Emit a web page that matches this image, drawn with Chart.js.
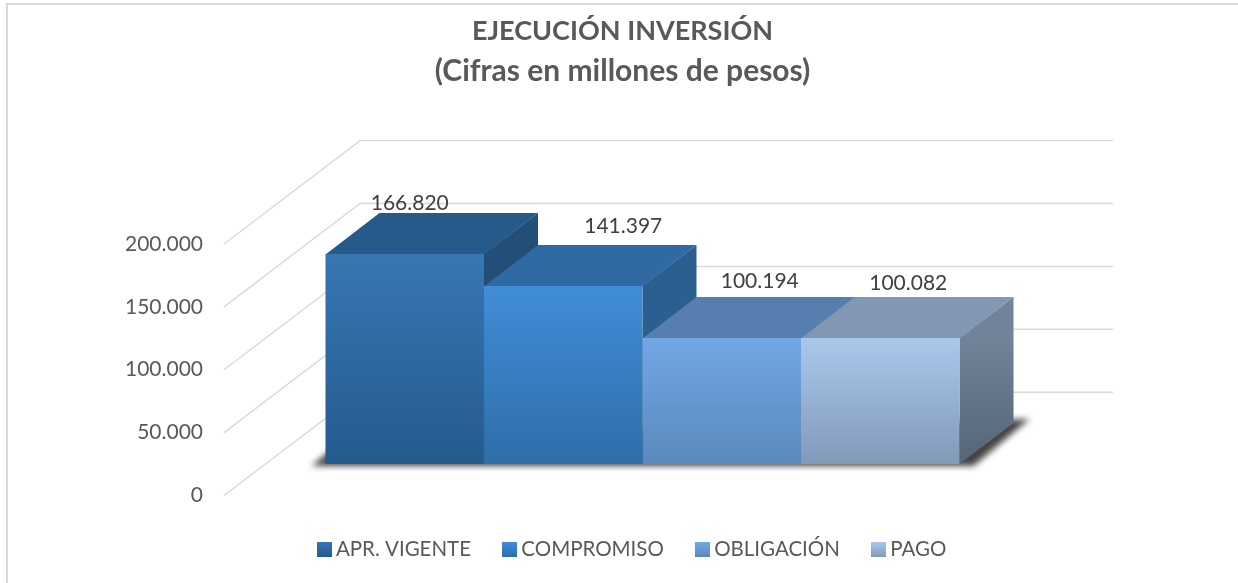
<!DOCTYPE html>
<html lang="es">
<head>
<meta charset="utf-8">
<title>Ejecución inversión</title>
<script src="https://cdn.jsdelivr.net/npm/chart.js@4"></script>
<style>
  html, body { margin: 0; padding: 0; background: #fff; }
  #wrap { width: 1238px; height: 583px; }
</style>
</head>
<body>
<div id="wrap"><canvas id="grafico" width="1238" height="583"></canvas></div>
<script>
// ==================== DATOS ====================
const categorias = ['Inversión'];
const series = ['APR. VIGENTE', 'COMPROMISO', 'OBLIGACIÓN', 'PAGO'];
const aprVigente = [166820];
const compromiso = [141397];
const obligacion = [100194];
const pago = [100082];
const valores = [aprVigente, compromiso, obligacion, pago];
const tickValores = [0, 50000, 100000, 150000, 200000];

// ==================== ESTILOS ====================
const frenteArriba = ['#3776b3', '#418dd8', '#72a8e6', '#aac8ec'];
const frenteAbajo = ['#255a8e', '#2e6ea8', '#5a88bc', '#8299b9'];
const techo = ['#265a8a', '#2f6aa3', '#567eae', '#8298b2'];
const ladoArriba = ['#224e78', '#2a5f90', '#4c6f9c', '#728298'];
const ladoAbajo = ['#224e78', '#2a5f90', '#4c6f9c', '#556678'];
// desplazamiento manual de cada etiqueta respecto al centro del techo
const etiquetaDx = [-22, 33, 11, 1];
const etiquetaDy = [-10, -19, -16, -14];

const PARED = { dx: 136, dy: -103.3 }; // fondo de la caja 3D
const BARRA = { dx: 54, dy: -41 };     // profundidad de cada barra
const FRENTE = { dx: 42, dy: -31.6 };  // donde arranca el frente de las barras
const LEYENDA_DX = 12;                 // la leyenda no va centrada con el título

function formatoMiles(v) {
    return v === 0 ? '0' : v.toLocaleString('de-DE');
}

function iconoLeyenda(i) {
    const c = document.createElement('canvas');
    c.width = 15; c.height = 15;
    const g = c.getContext('2d');
    const grad = g.createLinearGradient(0, 0, 0, 15);
    grad.addColorStop(0, frenteArriba[i]);
    grad.addColorStop(1, frenteAbajo[i]);
    g.fillStyle = grad;
    g.fillRect(0, 0, 15, 15);
    return c;
}

// ==================== PLUGIN 3D ====================
const caja3d = {
    id: 'caja3d',
    afterLayout(chart) {
        chart.legend.left += LEYENDA_DX;
        chart.legend.right += LEYENDA_DX;
    },
    beforeDraw(chart) {
        const { ctx, chartArea, scales } = chart;
        ctx.save();
        // marco exterior: solo se ven los bordes superior e izquierdo
        ctx.strokeStyle = '#d9d9d9';
        ctx.lineWidth = 2;
        ctx.beginPath();
        ctx.moveTo(7, 583);
        ctx.lineTo(7, 4);
        ctx.lineTo(1238, 4);
        ctx.stroke();
        // rejilla: pared lateral y pared de fondo
        ctx.lineWidth = 1.4;
        tickValores.forEach(v => {
            const y = scales.y.getPixelForValue(v);
            ctx.beginPath();
            ctx.moveTo(chartArea.left, y);
            ctx.lineTo(chartArea.left + PARED.dx, y + PARED.dy);
            ctx.lineTo(chartArea.right + PARED.dx, y + PARED.dy);
            ctx.stroke();
        });
        ctx.restore();
    },
    beforeDatasetsDraw(chart) {
        const { ctx } = chart;
        const barras = valores.map((_, i) => chart.getDatasetMeta(i).data[0]);
        const ultima = barras[barras.length - 1];
        const x0 = barras[0].x - barras[0].width / 2 + FRENTE.dx;
        const x1 = ultima.x + ultima.width / 2 + FRENTE.dx;
        const base = ultima.base + FRENTE.dy;

        // sombra sobre el piso
        ctx.save();
        ctx.filter = 'blur(3px)';
        ctx.fillStyle = '#444444';
        ctx.beginPath();
        ctx.moveTo(x0 - 14, base + 2);
        ctx.lineTo(x0 + 20, base - 26);
        ctx.lineTo(x1 + BARRA.dx + 16, base - 45);
        ctx.lineTo(x1 + 14, base + 2);
        ctx.closePath();
        ctx.fill();
        ctx.restore();

        // caras de techo y lateral, de izquierda a derecha
        barras.forEach((b, i) => {
            const izq = b.x - b.width / 2 + FRENTE.dx;
            const der = b.x + b.width / 2 + FRENTE.dx;
            const arriba = b.y + FRENTE.dy;
            const abajo = b.base + FRENTE.dy;

            const lado = ctx.createLinearGradient(0, arriba, 0, abajo);
            lado.addColorStop(0, ladoArriba[i]);
            lado.addColorStop(1, ladoAbajo[i]);
            ctx.fillStyle = lado;
            ctx.beginPath();
            ctx.moveTo(der, arriba);
            ctx.lineTo(der + BARRA.dx, arriba + BARRA.dy);
            ctx.lineTo(der + BARRA.dx, abajo + BARRA.dy);
            ctx.lineTo(der, abajo);
            ctx.closePath();
            ctx.fill();

            // medio pixel por debajo del frente para que no quede costura
            ctx.fillStyle = techo[i];
            ctx.beginPath();
            ctx.moveTo(izq, arriba + 0.5);
            ctx.lineTo(izq + BARRA.dx, arriba + BARRA.dy);
            ctx.lineTo(der + BARRA.dx, arriba + BARRA.dy);
            ctx.lineTo(der, arriba + 0.5);
            ctx.closePath();
            ctx.fill();
        });

        // el frente se dibuja con la propia barra de Chart.js, corrida hacia el fondo
        ctx.save();
        ctx.translate(FRENTE.dx, FRENTE.dy);
    },
    afterDatasetsDraw(chart) {
        const { ctx } = chart;
        ctx.restore();
        // etiquetas de valor
        ctx.save();
        ctx.font = '21px Lato';
        ctx.fillStyle = '#404040';
        ctx.textAlign = 'center';
        ctx.textBaseline = 'middle';
        valores.forEach((serie, i) => {
            const b = chart.getDatasetMeta(i).data[0];
            const cx = b.x + FRENTE.dx + BARRA.dx / 2 + etiquetaDx[i];
            const cy = b.y + FRENTE.dy + BARRA.dy + etiquetaDy[i];
            ctx.fillText(formatoMiles(serie[0]), cx, cy);
        });
        ctx.restore();
    }
};

// ==================== GRÁFICO ====================
function gradienteBarra(i) {
    return (c) => {
        const escala = c.chart.scales.y;
        if (!escala || !c.chart.chartArea) return frenteArriba[i];
        const grad = c.chart.ctx.createLinearGradient(0, escala.getPixelForValue(c.raw), 0, escala.getPixelForValue(0));
        grad.addColorStop(0, frenteArriba[i]);
        grad.addColorStop(1, frenteAbajo[i]);
        return grad;
    };
}

new Chart(document.getElementById('grafico'), {
    type: 'bar',
    plugins: [caja3d],
    data: {
        labels: categorias,
        datasets: series.map((nombre, i) => ({
            label: nombre,
            data: valores[i],
            backgroundColor: gradienteBarra(i),
            borderWidth: 0
        }))
    },
    options: {
        responsive: false,
        animation: false,
        layout: { padding: { left: 7, right: 0, top: 0, bottom: 13 } },
        datasets: { bar: { categoryPercentage: 0.842, barPercentage: 1 } },
        scales: {
            x: {
                grid: { display: false },
                border: { display: false },
                ticks: { display: false },
                afterFit: (s) => { s.height = 7; }
            },
            y: {
                min: 0,
                max: 200000,
                grid: { display: false },
                border: { display: false },
                afterFit: (s) => { s.width = 217; },
                afterBuildTicks: (s) => { s.ticks = tickValores.map(v => ({ value: v })); },
                ticks: {
                    padding: 13,
                    color: '#595959',
                    font: { family: 'Lato', size: 21 },
                    callback: (v) => formatoMiles(v)
                }
            },
            // eje vacío: solo reserva el espacio de la pared de fondo
            relleno: {
                position: 'right',
                grid: { display: false },
                border: { display: false },
                ticks: { display: false },
                afterFit: (s) => { s.width = 261; }
            }
        },
        plugins: {
            tooltip: { enabled: false },
            title: {
                display: true,
                text: 'EJECUCIÓN INVERSIÓN',
                color: '#595959',
                font: { family: 'Lato', size: 27, weight: 'bold', lineHeight: 1.48 },
                padding: { top: 11, bottom: 0 }
            },
            subtitle: {
                display: true,
                text: '(Cifras en millones de pesos)',
                color: '#595959',
                font: { family: 'Lato', size: 30, weight: 'bold', lineHeight: 1.333 },
                padding: { top: 0, bottom: 153 }
            },
            legend: {
                display: true,
                position: 'bottom',
                onClick: null,
                labels: {
                    color: '#595959',
                    font: { family: 'Lato', size: 20.5 },
                    usePointStyle: true,
                    pointStyleWidth: 3,
                    padding: 37,
                    generateLabels: () => series.map((nombre, i) => ({
                        text: nombre,
                        fontColor: '#595959',
                        pointStyle: iconoLeyenda(i),
                        datasetIndex: i
                    }))
                }
            }
        }
    }
});
</script>
</body>
</html>
